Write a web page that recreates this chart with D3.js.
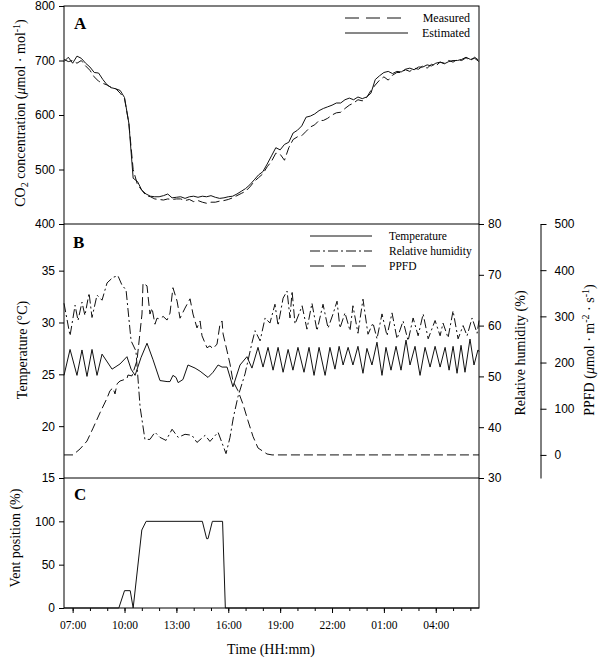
<!DOCTYPE html>
<html><head><meta charset="utf-8">
<script src="https://cdn.jsdelivr.net/npm/d3@7"></script>
<style>body{margin:0;background:#fff} svg{display:block}</style>
</head><body><svg id="c" width="600" height="660"></svg>
<script>
// ---------- DATA (time in hours from 00:00 of day 1; >24 = next day) ----------
const co2Time = [6.5,6.75,7,7.25,7.5,7.75,8,8.25,8.5,8.75,9,9.25,9.5,9.75,10,10.25,10.5,10.75,11,11.25,11.5,11.75,12,12.25,12.5,12.75,13,13.25,13.5,13.75,14,14.25,14.5,14.75,15,15.25,15.5,15.75,16,16.25,16.5,16.75,17,17.25,17.5,17.75,18,18.25,18.5,18.75,19,19.25,19.5,19.75,20,20.25,20.5,20.75,21,21.25,21.5,21.75,22,22.25,22.5,22.75,23,23.25,23.5,23.75,24,24.25,24.5,24.75,25,25.25,25.5,25.75,26,26.25,26.5,26.75,27,27.25,27.5,27.75,28,28.25,28.5,28.75,29,29.25,29.5,29.75,30,30.25,30.5];
const co2Estimated = [698,706,695,708,704,695,688,678,677,665,655,650,648,645,632,585,484,478,462,455,451,450,450,452,455,448,449,450,447,450,451,449,451,450,452,449,447,448,450,451,455,460,465,472,481,490,496,510,525,540,536,546,550,567,572,580,596,598,602,608,612,615,618,622,622,628,631,628,633,630,633,640,665,672,678,680,676,680,679,684,686,683,688,688,692,690,695,697,694,698,700,700,702,706,702,704,698];
const co2Measured = [702,698,700,695,700,690,682,670,662,658,655,650,648,640,630,585,500,472,462,452,450,446,445,444,446,445,446,446,443,445,441,443,440,438,440,440,442,443,445,448,452,456,460,468,478,485,492,505,515,530,528,517,540,555,560,562,570,578,582,590,590,594,600,604,605,612,618,622,628,626,632,645,655,664,670,664,673,678,678,683,680,686,684,690,686,693,690,697,695,700,697,702,700,705,700,706,700];

const tempTime = [6.5,6.85,7.25,7.54,7.83,8.12,8.41,8.7,9.28,9.74,10.14,10.38,10.61,10.95,11.3,11.65,12.05,12.46,12.63,12.8,12.98,13.1,13.38,13.67,14.08,14.37,14.83,15.12,15.41,15.64,15.93,16.27,16.68,17.08,17.37,17.72,18.01,18.3,18.59,18.88,19.17,19.46,19.74,20.03,20.38,20.67,20.96,21.25,21.6,21.88,22.17,22.41,22.64,22.93,23.21,23.5,23.79,24.02,24.31,24.6,24.89,25.12,25.41,25.7,25.99,26.28,26.51,26.8,27.09,27.38,27.67,27.96,28.25,28.54,28.77,29,29.23,29.46,29.69,29.98,30.21,30.44,30.5];
const tempValue = [24.9,27.4,24.9,27.35,24.8,27.4,24.9,26.95,25.5,26.0,26.7,25.5,24.9,26.6,28.0,26.4,24.4,24.3,24.3,24.9,24.7,24.2,24.5,25.9,25.6,25.3,24.7,25.2,25.9,25.7,25.7,23.8,25.9,26.7,25.6,27.6,25.7,27.6,25.4,27.6,25.2,27.4,25.4,27.6,25.2,27.6,24.9,27.6,24.9,27.6,25.5,27.7,25.9,27.6,25.9,27.7,25.1,27.5,25.9,28.1,24.9,27.6,25.4,27.7,25.4,28.3,25.9,27.7,24.9,27.6,25.7,27.7,25.7,27.6,25.4,27.7,25.1,27.8,25.2,28.4,25.9,27.35,27.2];

const rhTime = [6.5,6.85,7.14,7.31,7.54,7.71,7.95,8.12,8.41,8.7,8.99,9.33,9.62,9.85,10.09,10.38,10.66,10.9,11.18,11.47,11.76,12.05,12.4,12.75,13.1,13.5,13.9,14.19,14.66,14.94,15.41,15.87,16.1,16.3,16.56,16.97,17.37,17.55,17.84,18.13,18.41,18.7,18.88,19.17,19.4,19.57,19.69,19.86,20.27,20.55,20.84,21.13,21.48,21.77,22.06,22.29,22.46,22.75,23.04,23.21,23.5,23.79,24.08,24.37,24.6,24.89,25.18,25.47,25.76,26.11,26.4,26.69,26.98,27.27,27.56,27.96,28.25,28.42,28.71,29,29.29,29.58,29.81,30.1,30.39,30.5];
const rhValue = [64.4,58,64,61,64.6,62,66.4,61.6,66,65,68.4,69.5,69.8,68,67,57,55,44,37.6,37.6,39,38,37.4,39.6,38,38.6,38.4,37,38.4,37.2,39,34.8,38,42,46,50.5,56.6,59,57,61.5,60.5,64.2,60,65.4,66.8,61.5,66.8,60.3,63.9,59.3,64.4,59,64.2,59.5,62.3,64.8,59.5,62.5,59,63.9,58.5,65.2,58.3,60.5,57.4,62.3,58,62.5,57.4,60.9,57,61.5,58,62.3,57.4,61,58,60.5,57.6,62.9,57.4,60,58,61.5,58.5,61];

const ppfdTime = [6.5,7.02,7.43,7.83,8.18,8.58,8.99,9.16,9.33,9.45,9.57,9.74,10.14,10.2,10.43,10.72,11.01,11.07,11.3,11.47,11.59,11.76,11.88,12.05,12.23,12.46,12.63,12.8,13.04,13.21,13.5,13.79,13.96,14.19,14.37,14.48,14.77,14.94,15.12,15.35,15.52,15.64,15.7,15.93,16.1,16.27,16.56,16.85,17.14,17.43,17.72,18.24,18.53,30.5];
const ppfdValue = [0,0,13,30,58,91,123,139,145,132,154,160,165,173,171,204,305,372,366,305,318,283,296,294,300,292,307,362,333,296,318,338,305,275,290,258,232,236,230,240,283,290,262,225,197,160,139,110,74,40,15,2,0,0];

const ventTime = [6.5,9.67,10.0,10.33,10.5,11.0,11.25,14.5,14.75,14.83,15.08,15.67,15.83,30.5];
const ventValue = [0,0,20,20,0,90,100,100,80,80,100,100,0,0];

const co2Ticks = [400,500,600,700,800];
const tempTicks = [15,20,25,30,35];
const rhTicks = [30,40,50,60,70,80];
const ppfdTicks = [0,100,200,300,400,500];
const ventTicks = [0,50,100];
const hourTicks = [7,8,9,10,11,12,13,14,15,16,17,18,19,20,21,22,23,24,25,26,27,28,29,30];
const majorTicks = [7,10,13,16,19,22,25,28];
const majorLabels = ["07:00","10:00","13:00","16:00","19:00","22:00","01:00","04:00"];

// ---------- LAYOUT ----------
const svg = d3.select("#c");
const L = 64, R = 479, A0 = 6, A1 = 224, B1 = 478, C1 = 608;
const SANS = "'Liberation Sans', Arial, sans-serif";
const SERIF = "'Liberation Serif', 'Times New Roman', serif";

const x = d3.scaleLinear().domain([6.5, 30.5]).range([L, R]);
const yA = d3.scaleLinear().domain([400, 800]).range([A1, A0]);
const yT = d3.scaleLinear().domain([15, 39.5]).range([B1, A1]);
const yRH = d3.scaleLinear().domain([30, 80]).range([B1, A1]);
const yP = d3.scaleLinear().domain([-50, 500]).range([B1, A1]);
const yV = d3.scaleLinear().domain([0, 150]).range([C1, B1]);

function styleAxis(g, font, size) {
  g.selectAll("text").attr("font-family", font).attr("font-size", size).attr("fill", "#000");
  g.selectAll("line").attr("stroke", "#000");
  g.select(".domain").attr("stroke", "#000");
}

// left axes
[[yA, co2Ticks], [yT, tempTicks], [yV, ventTicks]].forEach(([s, tv]) => {
  const g = svg.append("g").attr("transform", `translate(${L},0)`)
    .call(d3.axisLeft(s).tickValues(tv).tickSize(5).tickPadding(4).tickSizeOuter(0));
  g.select(".domain").remove();
  styleAxis(g, SANS, 12);
});
// RH right axis
{
  const g = svg.append("g").attr("transform", `translate(${R},0)`)
    .call(d3.axisRight(yRH).tickValues(rhTicks).tickSize(5).tickPadding(4).tickSizeOuter(0));
  g.select(".domain").remove();
  styleAxis(g, SANS, 12);
}
// PPFD offset axis
{
  const g = svg.append("g").attr("transform", `translate(540.5,0)`)
    .call(d3.axisRight(yP).tickValues(ppfdTicks).tickSize(6).tickPadding(8).tickSizeOuter(0));
  styleAxis(g, SANS, 12);
}
// bottom time axis
{
  const gm = svg.append("g").attr("transform", `translate(0,${C1})`)
    .call(d3.axisBottom(x).tickValues(hourTicks).tickSize(3).tickFormat("").tickSizeOuter(0));
  gm.select(".domain").remove();
  styleAxis(gm, SERIF, 11.5);
  const g = svg.append("g").attr("transform", `translate(0,${C1})`)
    .call(d3.axisBottom(x).tickValues(majorTicks).tickSize(5).tickPadding(8)
      .tickFormat((d, i) => majorLabels[i]).tickSizeOuter(0));
  g.select(".domain").remove();
  styleAxis(g, SERIF, 11.5);
}

// frame
svg.append("rect").attr("x", L).attr("y", A0).attr("width", R - L).attr("height", C1 - A0)
  .attr("fill", "none").attr("stroke", "#000").attr("stroke-width", 1);
[A1, B1].forEach(yy => svg.append("line").attr("x1", L).attr("x2", R).attr("y1", yy).attr("y2", yy)
  .attr("stroke", "#000"));

// series
function drawLine(times, vals, ys, dash) {
  const line = d3.line().x((d, i) => x(times[i])).y(d => ys(d));
  svg.append("path").datum(vals).attr("d", line).attr("fill", "none")
    .attr("stroke", "#111").attr("stroke-width", 1).attr("stroke-dasharray", dash || null);
}
const DASH = "9,4", DASHDOT = "9,3,2,3";
drawLine(co2Time, co2Measured, yA, DASH);
drawLine(co2Time, co2Estimated, yA, null);
drawLine(tempTime, tempValue, yT, null);
drawLine(rhTime, rhValue, yRH, DASHDOT);
drawLine(ppfdTime, ppfdValue, yP, DASH);
drawLine(ventTime, ventValue, yV, null);

// legends
function legItem(x1, x2, y, dash, label, tx, anchor, size) {
  svg.append("line").attr("x1", x1).attr("x2", x2).attr("y1", y).attr("y2", y)
    .attr("stroke", "#111").attr("stroke-width", 1).attr("stroke-dasharray", dash || null);
  svg.append("text").attr("x", tx).attr("y", y + 4).attr("text-anchor", anchor)
    .attr("font-family", SERIF).attr("font-size", size).text(label);
}
legItem(345, 403, 18, "14,7", "Measured", 470, "end", 12);
legItem(345, 408, 33, null, "Estimated", 470, "end", 12);
legItem(310, 372, 236, null, "Temperature", 389, "start", 11.5);
legItem(310, 372, 251, "10,3,2,3", "Relative humidity", 389, "start", 11.5);
legItem(310, 372, 266, "14,7", "PPFD", 389, "start", 11.5);

// panel letters
[["A", 74, 29], ["B", 73, 248], ["C", 74, 500]].forEach(([t, xx, yy]) =>
  svg.append("text").attr("x", xx).attr("y", yy).attr("font-family", SERIF)
    .attr("font-weight", "bold").attr("font-size", 17).text(t));

// axis titles
function vtitle(cx, cy, parts) {
  const t = svg.append("text").attr("transform", `translate(${cx},${cy}) rotate(-90)`)
    .attr("text-anchor", "middle").attr("font-family", SERIF).attr("font-size", 14);
  parts.forEach(p => {
    const s = t.append("tspan").text(p.t);
    if (p.dy) s.attr("dy", p.dy);
    if (p.fs) s.attr("font-size", p.fs);
    if (p.it) s.attr("font-style", "italic");
  });
}
vtitle(25, 113, [{t: "CO"}, {t: "2", fs: 10, dy: 3}, {t: " concentration (", dy: -3}, {t: "\u03bc", it: 1},
  {t: "mol \u00b7 mol"}, {t: "-1", fs: 10, dy: -5}, {t: ")", dy: 5}]);
vtitle(27, 350, [{t: "Temperature (\u00b0C)"}]);
vtitle(20, 538, [{t: "Vent position (%)"}]);
vtitle(525, 353, [{t: "Relative humidity (%)"}]);
vtitle(594, 350, [{t: "PPFD ("}, {t: "\u03bc", it: 1}, {t: "mol \u00b7 m"}, {t: "-2", fs: 10, dy: -5},
  {t: " \u00b7 s", dy: 5}, {t: "-1", fs: 10, dy: -5}, {t: ")", dy: 5}]);
svg.append("text").attr("x", 271).attr("y", 654).attr("text-anchor", "middle")
  .attr("font-family", SERIF).attr("font-size", 14).text("Time (HH:mm)");
</script></body></html>
